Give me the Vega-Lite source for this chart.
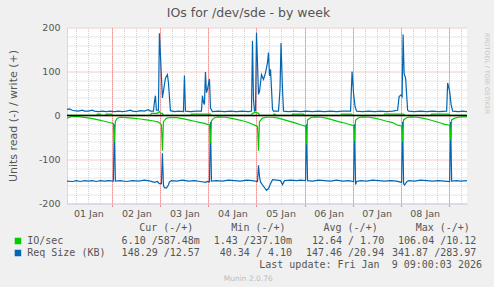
{
  "$schema": "https://vega.github.io/schema/vega-lite/v6.json",
  "background": "#f0f0f0",
  "padding": {"left": 7, "top": 6.5, "right": 5, "bottom": 5},
  "config": {"font": "DejaVu Sans", "view": {"stroke": null}},
  "title": {"text": "Munin 2.0.76", "orient": "bottom", "anchor": "middle", "fontSize": 7.5, "color": "#bbbbbb", "fontWeight": "normal", "offset": 5},
  "datasets": {
    "ior": [
      {"h":1.33,"v":-6},{"h":3,"v":-3},{"h":5,"v":-2},{"h":8,"v":-3},{"h":11,"v":-5},{"h":14,"v":-7},{"h":17,"v":-10},{"h":20,"v":-13},{"h":22.5,"v":-16},{"h":24.5,"v":-18},
      {"h":25,"v":-61},{"h":25.5,"v":-13},{"h":26.5,"v":-6},{"h":28,"v":-4},{"h":31,"v":-5},{"h":34,"v":-6},{"h":38,"v":-8},{"h":41,"v":-10},{"h":44,"v":-12},{"h":47,"v":-15},{"h":48.5,"v":-21},
      {"h":49,"v":-80},{"h":49.5,"v":-14},{"h":51,"v":-6},{"h":53,"v":-4.5},{"h":56,"v":-5},{"h":59,"v":-7},{"h":62,"v":-10},{"h":65,"v":-13},{"h":68,"v":-16},{"h":70,"v":-18},{"h":71.5,"v":-20},{"h":72.5,"v":-21},
      {"h":73,"v":-63},{"h":73.5,"v":-12},{"h":75,"v":-5},{"h":77,"v":-3},{"h":80,"v":-4},{"h":83,"v":-6},{"h":86,"v":-9},{"h":89,"v":-12},{"h":92,"v":-16},{"h":94,"v":-20},{"h":95.5,"v":-23},{"h":96.5,"v":-25},
      {"h":97,"v":-80},{"h":97.5,"v":-14},{"h":99,"v":-6},{"h":101,"v":-4},{"h":104,"v":-4},{"h":107,"v":-6},{"h":110,"v":-10},{"h":113,"v":-14},{"h":116,"v":-18},{"h":118,"v":-21},{"h":119.5,"v":-23},{"h":120.5,"v":-24},
      {"h":121,"v":-66},{"h":121.5,"v":-10},{"h":123,"v":-5},{"h":125,"v":-3},{"h":128,"v":-4},{"h":131,"v":-6},{"h":134,"v":-10},{"h":137,"v":-14},{"h":140,"v":-17},{"h":142,"v":-20},{"h":143.5,"v":-22},{"h":144.5,"v":-23},
      {"h":145,"v":-59},{"h":145.5,"v":-11},{"h":147,"v":-5},{"h":149,"v":-3},{"h":152,"v":-4},{"h":155,"v":-6},{"h":158,"v":-9},{"h":161,"v":-13},{"h":164,"v":-16},{"h":166,"v":-21},{"h":167.5,"v":-23},{"h":168.5,"v":-24},
      {"h":169,"v":-60},{"h":169.5,"v":-10},{"h":171,"v":-5},{"h":173,"v":-3},{"h":176,"v":-4},{"h":179,"v":-6},{"h":182,"v":-9},{"h":185,"v":-13},{"h":188,"v":-17},{"h":190,"v":-20},{"h":191.5,"v":-21},{"h":192.5,"v":-22},
      {"h":193,"v":-56},{"h":193.5,"v":-10},{"h":195,"v":-6},{"h":197,"v":-4},{"h":199,"v":-3},{"h":201.17,"v":-3}
    ],
    "iow": [
      {"h":1.33,"v":0.3},{"h":16,"v":0.3},{"h":16.5,"v":3},{"h":18,"v":3},{"h":18.5,"v":0.3},{"h":20.5,"v":0.3},{"h":21,"v":3},{"h":23.5,"v":3},{"h":24,"v":0.3},
      {"h":43,"v":0.3},{"h":43.5,"v":5},{"h":46.5,"v":5},{"h":47.5,"v":9},{"h":48,"v":5},{"h":49,"v":5},{"h":49.5,"v":0.3},
      {"h":63,"v":0.3},{"h":63.5,"v":3},{"h":73,"v":3},{"h":73.5,"v":0.3},
      {"h":93.5,"v":0.3},{"h":94,"v":5},{"h":95.5,"v":7},{"h":97,"v":5},{"h":97.5,"v":0.3},
      {"h":104.5,"v":0.3},{"h":104.75,"v":3},{"h":105.25,"v":3},{"h":105.5,"v":0.3},
      {"h":113.5,"v":0.3},{"h":114,"v":3},{"h":119.5,"v":3},{"h":120,"v":0.3},
      {"h":138,"v":0.3},{"h":138.5,"v":3},{"h":143.5,"v":3},{"h":144,"v":0.3},
      {"h":159.5,"v":0.3},{"h":160,"v":3},{"h":169.5,"v":3},{"h":170,"v":0.3},
      {"h":183,"v":0.3},{"h":183.5,"v":3},{"h":192,"v":3},{"h":192.5,"v":0.3},{"h":201.17,"v":0.3}
    ],
    "rsr": [
      {"h":1.33,"v":-149},{"h":4,"v":-150},{"h":6,"v":-148},{"h":8,"v":-150},{"h":10,"v":-148},{"h":12,"v":-149},{"h":14,"v":-148},{"h":16,"v":-150},{"h":18,"v":-148},{"h":20,"v":-149},{"h":22,"v":-148},{"h":24.5,"v":-149},
      {"h":25,"v":-20},{"h":25.5,"v":-149},{"h":28,"v":-148},{"h":31,"v":-150},{"h":34,"v":-148},{"h":37,"v":-149},{"h":40,"v":-147},{"h":43,"v":-149},{"h":45,"v":-152},{"h":46.5,"v":-150},{"h":47.5,"v":-155},{"h":48.5,"v":-155},
      {"h":49,"v":-86},{"h":49.5,"v":-158},{"h":50,"v":-164},{"h":51,"v":-165},{"h":52,"v":-158},{"h":52.5,"v":-151},{"h":53.5,"v":-148},{"h":56,"v":-149},{"h":59,"v":-147},{"h":62,"v":-149},{"h":65,"v":-148},{"h":68,"v":-150},{"h":70.5,"v":-152},{"h":71.5,"v":-150},{"h":72.5,"v":-151},
      {"h":73,"v":-15},{"h":73.5,"v":-149},{"h":76,"v":-148},{"h":79,"v":-149},{"h":82,"v":-147},{"h":85,"v":-148},{"h":88,"v":-149},{"h":91,"v":-147},{"h":94,"v":-148},{"h":96.5,"v":-150},
      {"h":97,"v":-113},{"h":97.5,"v":-139},{"h":98,"v":-151},{"h":99,"v":-158},{"h":100,"v":-164},{"h":101,"v":-170},{"h":102,"v":-166},{"h":103,"v":-155},{"h":104,"v":-146},{"h":106,"v":-147},{"h":108,"v":-148},{"h":109,"v":-157},{"h":110,"v":-148},{"h":113,"v":-147},{"h":116,"v":-148},{"h":118,"v":-147},{"h":120.5,"v":-148},
      {"h":121,"v":-20},{"h":121.5,"v":-148},{"h":124,"v":-149},{"h":127,"v":-147},{"h":130,"v":-148},{"h":133,"v":-149},{"h":136,"v":-147},{"h":139,"v":-149},{"h":142,"v":-148},{"h":144.5,"v":-150},
      {"h":145,"v":-20},{"h":145.5,"v":-157},{"h":146,"v":-150},{"h":148,"v":-148},{"h":151,"v":-149},{"h":154,"v":-147},{"h":157,"v":-148},{"h":160,"v":-149},{"h":163,"v":-148},{"h":166,"v":-149},{"h":168.5,"v":-152},
      {"h":169,"v":-14},{"h":169.5,"v":-155},{"h":170,"v":-158},{"h":171,"v":-151},{"h":172,"v":-148},{"h":175,"v":-149},{"h":178,"v":-147},{"h":181,"v":-148},{"h":184,"v":-149},{"h":187,"v":-148},{"h":190,"v":-149},{"h":192.5,"v":-150},
      {"h":193,"v":-14},{"h":193.5,"v":-149},{"h":196,"v":-148},{"h":198,"v":-149},{"h":201.17,"v":-148}
    ],
    "rsw": [
      {"h":1.33,"v":14},{"h":2.5,"v":15},{"h":4,"v":12},{"h":5,"v":11},{"h":7,"v":10},{"h":9,"v":12},{"h":10,"v":10},{"h":12,"v":10},{"h":14,"v":12},{"h":15,"v":10},{"h":17,"v":9},{"h":19,"v":10},{"h":21,"v":9},{"h":23,"v":10},
      {"h":25,"v":9},{"h":27,"v":10},{"h":29,"v":9},{"h":31,"v":10},{"h":33,"v":12},{"h":34,"v":10},{"h":36,"v":9},{"h":38,"v":11},{"h":40,"v":10},{"h":42,"v":13},{"h":43,"v":10},{"h":44.5,"v":10},{"h":45,"v":30},{"h":45.5,"v":45},{"h":46,"v":12},{"h":47,"v":12},{"h":47.5,"v":187},
      {"h":49,"v":40},{"h":50.5,"v":85},{"h":51.5,"v":93},{"h":52,"v":75},{"h":53,"v":11},{"h":55,"v":9},{"h":57,"v":10},{"h":59.5,"v":9},{"h":60,"v":91},{"h":60.5,"v":10},{"h":63,"v":9},{"h":66,"v":10},{"h":68.5,"v":10},{"h":69,"v":45},{"h":69.5,"v":30},{"h":70,"v":25},{"h":70.5,"v":99},{"h":71,"v":52},{"h":71.5,"v":59},
      {"h":72.5,"v":83},{"h":73,"v":17},{"h":74,"v":9},{"h":77,"v":10},{"h":80,"v":9},{"h":83,"v":10},{"h":86,"v":9},{"h":89,"v":10},{"h":92,"v":9},{"h":93.5,"v":10},{"h":94,"v":170},{"h":94.5,"v":36},{"h":95,"v":10},{"h":95.5,"v":11},
      {"h":96,"v":188},{"h":97,"v":48},{"h":97.5,"v":55},{"h":98.5,"v":93},{"h":99.5,"v":82},{"h":100.5,"v":97},{"h":101.5,"v":120},{"h":102,"v":143},{"h":102.5,"v":90},{"h":103,"v":105},{"h":103.5,"v":60},{"h":104,"v":14},{"h":104.5,"v":10},{"h":107,"v":10},{"h":107.75,"v":59},{"h":108.25,"v":165},{"h":109,"v":59},{"h":109.5,"v":10},{"h":112,"v":9},{"h":115,"v":10},{"h":118,"v":9},
      {"h":121,"v":10},{"h":124,"v":9},{"h":127,"v":10},{"h":130,"v":9},{"h":133,"v":10},{"h":136,"v":9},{"h":139,"v":10},{"h":143,"v":10},{"h":143.75,"v":100},
      {"h":144.5,"v":50},{"h":145.25,"v":20},{"h":146,"v":10},{"h":149,"v":9},{"h":152,"v":10},{"h":155,"v":9},{"h":158,"v":10},{"h":161,"v":9},{"h":164,"v":10},{"h":166.5,"v":12},{"h":167.25,"v":43},
      {"h":168.25,"v":47},{"h":168.75,"v":43},{"h":169.25,"v":184},{"h":169.75,"v":95},{"h":170.5,"v":85},{"h":171.5,"v":12},{"h":172,"v":10},{"h":175,"v":9},{"h":178,"v":10},{"h":181,"v":9},{"h":184,"v":10},{"h":187,"v":9},{"h":191,"v":10},{"h":191.5,"v":74},
      {"h":192.5,"v":55},{"h":193.25,"v":24},{"h":194,"v":10},{"h":197,"v":9},{"h":199,"v":10},{"h":201.17,"v":9}
    ],
    "stats": [
      {"series":"IO/sec","stat":"Cur (-/+)","value":"6.10 /587.48m"},
      {"series":"IO/sec","stat":"Min (-/+)","value":"1.43 /237.10m"},
      {"series":"IO/sec","stat":"Avg (-/+)","value":"12.64 / 1.70"},
      {"series":"IO/sec","stat":"Max (-/+)","value":"106.04 /10.12"},
      {"series":"Req Size (KB)","stat":"Cur (-/+)","value":"148.29 /12.57"},
      {"series":"Req Size (KB)","stat":"Min (-/+)","value":"40.34 / 4.10"},
      {"series":"Req Size (KB)","stat":"Avg (-/+)","value":"147.46 /20.94"},
      {"series":"Req Size (KB)","stat":"Max (-/+)","value":"341.87 /283.97"}
    ]
  },
  "vconcat": [
    {
      "width": 400,
      "height": 176,
      "view": {"fill": "#ffffff", "stroke": null},
      "title": {"text": "IOs for /dev/sde - by week", "fontSize": 12.5, "fontWeight": "normal", "color": "#555555", "offset": 3, "anchor": "middle", "frame": "group", "dx": -18.5},
      "layer": [
        {
          "data": {"name": "rsr"},
          "mark": {"type": "line", "color": "#0066b3", "strokeWidth": 1.2, "clip": true},
          "encoding": {
            "x": {"field": "h", "type": "quantitative",
              "scale": {"domain": [1.33, 201.17], "nice": false, "zero": false},
              "axis": {"orient": "top", "title": null, "values": [6,12,18,24,30,36,42,48,54,60,66,72,78,84,90,96,102,108,114,120,126,132,138,144,150,156,162,168,174,180,186,192,198], "grid": true, "gridColor": "#d0d0d0", "gridDash": [1, 1], "labels": false, "ticks": false, "tickSize": 0, "domain": false}},
            "y": {"field": "v", "type": "quantitative",
              "scale": {"domain": [-200, 200], "nice": false, "zero": false},
              "axis": {"orient": "right", "values": [-180, -160, -140, -120, -80, -60, -40, -20, 20, 40, 60, 80, 120, 140, 160, 180], "grid": true, "gridColor": "#d0d0d0", "gridDash": [1, 1], "labels": false, "ticks": false, "tickSize": 0, "domain": false, "title": "RRDTOOL / TOBI OETIKER", "titleFontSize": 6.3, "titleFontWeight": "normal", "titleColor": "#c4c4c4", "titleAngle": 90, "titleAlign": "left", "titleY": 5, "titlePadding": 16}}
          }
        },
        {
          "data": {"name": "rsw"},
          "mark": {"type": "line", "color": "#0066b3", "strokeWidth": 1.2, "clip": true},
          "encoding": {
            "x": {"field": "h", "type": "quantitative",
              "axis": {"orient": "bottom", "title": null, "values": [24,48,72,96,120,144,168,192], "grid": true, "gridColor": "#e89090", "gridDash": [1, 1], "ticks": true, "tickSize": 3, "tickColor": "#e89090", "domain": true, "domainColor": "#cfd6f8", "domainWidth": 1, "labelExpr": "'0' + floor(datum.value / 24) + ' Jan'", "labelOffset": -24, "labelPadding": 2, "labelFontSize": 9.5, "labelColor": "#555555", "labelOverlap": false, "labelFlush": false, "labelBound": false}},
            "y": {"field": "v", "type": "quantitative",
              "axis": {"orient": "left", "values": [-200, -100, 0, 100, 200], "grid": true, "gridColor": "#e89090", "gridDash": [1, 1], "ticks": false, "tickSize": 0, "domain": true, "domainColor": "#cfd6f8", "domainWidth": 1, "labelExpr": "'' + datum.value", "labelFontSize": 9.5, "labelColor": "#555555", "labelPadding": 7, "title": "Units read (-) / write (+)", "titleFontSize": 11, "titleFontWeight": "normal", "titleColor": "#555555", "titlePadding": 20}}
          }
        },
        {
          "data": {"name": "ior"},
          "mark": {"type": "line", "color": "#00cc00", "strokeWidth": 1.2, "clip": true},
          "encoding": {
            "x": {"field": "h", "type": "quantitative", "axis": null},
            "y": {"field": "v", "type": "quantitative", "axis": null}
          }
        },
        {
          "data": {"name": "iow"},
          "mark": {"type": "line", "color": "#00cc00", "strokeWidth": 1.2, "clip": true},
          "encoding": {
            "x": {"field": "h", "type": "quantitative", "axis": null},
            "y": {"field": "v", "type": "quantitative", "axis": null}
          }
        },
        {
          "data": {"values": [{"v": 0}]},
          "mark": {"type": "rule", "color": "#000000", "strokeWidth": 1.5},
          "encoding": {
            "y": {"field": "v", "type": "quantitative", "axis": null}
          }
        }
      ],
      "resolve": {"axis": {"x": "independent", "y": "independent"}}
    },
    {
      "width": 415,
      "height": 24,
      "data": {"name": "stats"},
      "title": {"text": "Last update: Fri Jan \u00a09 09:00:03 2026", "orient": "bottom", "anchor": "end", "frame": "group", "font": "DejaVu Sans Mono", "fontSize": 10, "fontWeight": "normal", "color": "#555555", "offset": 1},
      "mark": {"type": "text", "align": "right", "baseline": "middle", "font": "DejaVu Sans Mono", "fontSize": 10, "color": "#555555"},
      "encoding": {
        "x": {"field": "stat", "type": "nominal", "sort": ["Cur (-/+)", "Min (-/+)", "Avg (-/+)", "Max (-/+)"],
          "scale": {"type": "point", "padding": 0.752, "align": 0.959},
          "axis": {"orient": "top", "title": null, "domain": false, "ticks": false, "tickSize": 0, "grid": false, "labelAngle": 0, "labelAlign": "right", "labelOffset": -7, "labelPadding": 2, "labelFont": "DejaVu Sans Mono", "labelFontSize": 10, "labelColor": "#555555", "labelOverlap": false}},
        "y": {"field": "series", "type": "nominal", "sort": ["IO/sec", "Req Size (KB)"],
          "scale": {"type": "point", "padding": 0.5},
          "axis": {"orient": "left", "title": null, "domain": false, "grid": false, "ticks": true, "tickSize": 6.5, "tickWidth": 6.5, "tickCap": "butt", "tickColor": {"condition": {"test": "datum.value === 'IO/sec'", "value": "#00cc00"}, "value": "#0066b3"}, "offset": 46.3, "labelAlign": "left", "labelBaseline": "middle", "labelPadding": -12.5, "labelFont": "DejaVu Sans Mono", "labelFontSize": 10, "labelColor": "#555555"}},
        "text": {"field": "value"}
      }
    }
  ],
  "spacing": 4
}
